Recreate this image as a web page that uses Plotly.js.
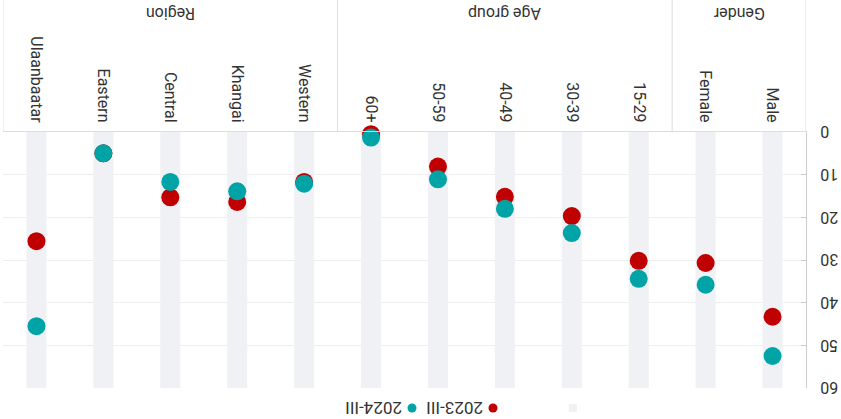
<!DOCTYPE html>
<html>
<head>
<meta charset="utf-8">
<script src="https://cdn.plot.ly/plotly-3.0.1.min.js"></script>
<style>
html,body{margin:0;padding:0;background:#fff;overflow:hidden;}
#wrap{width:841px;height:419px;transform:rotate(180deg);transform-origin:50% 50%;}
#chart{width:841px;height:419px;}
</style>
</head>
<body>
<div id="wrap"><div id="chart"></div></div>
<script>
const categories = ["Male","Female","15-29","30-39","40-49","50-59","60+","Western","Khangai","Central","Eastern","Ulaanbaatar"];
const series2023 = [43.3, 30.7, 30.2, 19.7, 15.2, 8.1, 0.5, 11.7, 16.4, 15.3, 5.0, 25.6];
const series2024 = [52.5, 35.8, 34.4, 23.7, 18.0, 11.1, 1.3, 12.1, 13.9, 11.7, 5.0, 45.5];
const bandTop = [60, 60, 60, 60, 60, 60, 60, 60, 60, 60, 60, 60];
const groupNames = ["Gender", "Age group", "Region"];
const groupStart = [0, 2, 7];
const groupEnd = [1, 6, 11];
const yTicks = [0, 10, 20, 30, 40, 50, 60];
const seriesNames = ["2023-III", "2024-III"];

const RED = "#c00000";
const TEAL = "#00a3a6";
const BAND = "#f0f1f4";
const FONT = "Roboto, Arial, sans-serif";
const seriesColors = [RED, TEAL];

const xs = categories.map((c, i) => i);

const traces = [
  {type: "bar", x: xs, y: bandTop, width: 0.3, marker: {color: BAND}, hoverinfo: "skip", showlegend: false},
  {type: "scatter", mode: "markers", x: xs, y: series2023, name: seriesNames[0], cliponaxis: false,
   marker: {color: RED, size: 18}, showlegend: false},
  {type: "scatter", mode: "markers", x: xs, y: series2024, name: seriesNames[1], cliponaxis: false,
   marker: {color: TEAL, size: 18}, showlegend: false}
];

const W = 841, H = 419;
const mL = 35, mR = 3, mT = 31, mB = 132;
const plotW = W - mL - mR, plotH = H - mT - mB;
const px2x = p => (p - mL) / plotW;
const py2y = p => (H - mB - p) / plotH;

const shapes = [];
const bounds = [-0.5];
groupEnd.forEach(e => bounds.push(e + 0.5));
bounds.forEach(b => shapes.push({type: "line", xref: "x", yref: "paper", x0: b, x1: b, y0: 0, y1: py2y(H + 5),
  line: {color: "#dddddd", width: 1}}));

const annotations = groupNames.map((g, i) => ({
  xref: "x", yref: "paper", x: (groupStart[i] + groupEnd[i]) / 2, y: py2y(405),
  text: g, showarrow: false, xanchor: "center", yanchor: "middle",
  font: {family: FONT, size: 16, color: "#333"}
}));

// legend (drawn as layout decorations)
const legY = py2y(11);
const legSquareX = 268;
const legDotX = [348, 429];
shapes.push({type: "rect", xref: "paper", yref: "paper", xsizemode: "pixel", ysizemode: "pixel",
  xanchor: px2x(legSquareX), yanchor: legY, x0: -4, x1: 4, y0: -4, y1: 4,
  fillcolor: BAND, line: {width: 0}});
seriesNames.forEach((n, i) => {
  shapes.push({type: "circle", xref: "paper", yref: "paper", xsizemode: "pixel", ysizemode: "pixel",
    xanchor: px2x(legDotX[i]), yanchor: legY, x0: -4.5, x1: 4.5, y0: -4.5, y1: 4.5,
    fillcolor: seriesColors[i], line: {width: 0}});
  annotations.push({xref: "paper", yref: "paper", x: px2x(legDotX[i] + 8), y: legY,
    xanchor: "left", yanchor: "middle", text: n, showarrow: false,
    font: {family: FONT, size: 17, color: "#333"}});
});

const layout = {
  width: W, height: H,
  margin: {l: mL, r: mR, t: mT, b: mB, pad: 0, autoexpand: false},
  paper_bgcolor: "#fff", plot_bgcolor: "#fff",
  font: {family: FONT, size: 16, color: "#333"},
  barmode: "overlay",
  showlegend: false,
  xaxis: {range: [-0.5, 11.5], tickmode: "array", tickvals: xs, ticktext: categories,
    tickangle: -90, showgrid: false, zeroline: false, showline: true, linecolor: "#dddddd", linewidth: 1,
    ticks: "", ticklabelstandoff: 2, tickfont: {family: FONT, size: 16, color: "#333"}, fixedrange: true},
  yaxis: {range: [0, 60], tickmode: "array", tickvals: yTicks, showgrid: true, gridcolor: "#eeeeee",
    zeroline: false, showline: true, linecolor: "#cccccc", linewidth: 1,
    ticks: "inside", ticklen: 5, tickcolor: "#cccccc", ticklabelstandoff: 10,
    tickfont: {family: FONT, size: 16, color: "#333"}, fixedrange: true},
  shapes: shapes,
  annotations: annotations
};

Plotly.newPlot("chart", traces, layout, {displayModeBar: false, staticPlot: true});
</script>
</body>
</html>
